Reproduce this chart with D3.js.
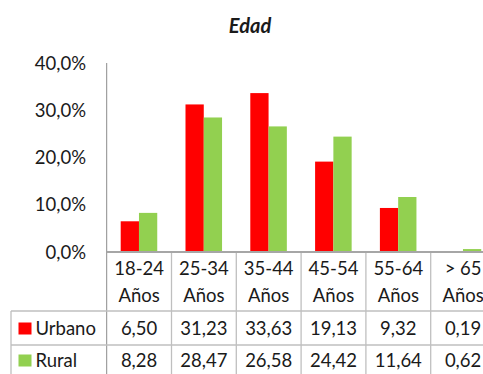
<!DOCTYPE html>
<html>
<head>
<meta charset="utf-8">
<script src="https://cdn.jsdelivr.net/npm/d3@7"></script>
<style>
  html, body { margin: 0; padding: 0; background: #fff; }
  svg { display: block; }
  text { font-family: Lato, "Open Sans", sans-serif; fill: #1a1a1a; }
</style>
</head>
<body>
<div id="chart"></div>
<script>
const title = "Edad";
const categories = ["18-24 Años", "25-34 Años", "35-44 Años", "45-54 Años", "55-64 Años", "> 65 Años"];
const catLine1 = ["18-24", "25-34", "35-44", "45-54", "55-64", "> 65"];
const catLine2 = ["Años", "Años", "Años", "Años", "Años", "Años"];
const seriesNames = ["Urbano", "Rural"];
const urbano = [6.50, 31.23, 33.63, 19.13, 9.32, 0.19];
const rural = [8.28, 28.47, 26.58, 24.42, 11.64, 0.62];
const seriesColors = ["#FF0000", "#92D050"];
const yTicks = [0, 10, 20, 30, 40];

const W = 483, H = 374;
const svg = d3.select("#chart").append("svg").attr("width", W).attr("height", H);

const plotLeft = 106.7, plotRight = 495.5, plotTop = 63, plotBottom = 252;
const x = d3.scaleBand().domain(categories).range([plotLeft, plotRight]).paddingInner(0).paddingOuter(0);
const bw = x.bandwidth();
const xs = d3.scaleBand().domain(seriesNames).range([bw * 0.216, bw * 0.78]).padding(0);
const y = d3.scaleLinear().domain([0, 40]).range([plotBottom, plotTop]);

const fmt = v => d3.format(".1f")(v).replace(".", ",") + "%";
const fmt2 = v => d3.format(".2f")(v).replace(".", ",");

// title
svg.append("text").attr("x", 250).attr("y", 33).attr("text-anchor", "middle")
  .style("font-size", "20px").style("font-weight", "bold").style("font-style", "italic").text(title);

// y labels
svg.append("g").selectAll("text").data(yTicks).join("text")
  .attr("x", 86).attr("y", d => y(d)).attr("dy", "0.36em").attr("text-anchor", "end")
  .style("font-size", "18.5px").text(fmt);

// bars
const seriesData = [urbano, rural];
seriesData.forEach((vals, si) => {
  svg.append("g").selectAll("rect").data(vals).join("rect")
    .attr("x", (d, i) => x(categories[i]) + xs(seriesNames[si]))
    .attr("width", xs.bandwidth())
    .attr("y", d => y(d))
    .attr("height", d => y(0) - y(d))
    .attr("fill", seriesColors[si]);
});

// axes lines
const lineColor = "#BFBFBF";
const axisColor = "#8C8C8C";
svg.append("line").attr("x1", plotLeft).attr("x2", plotLeft).attr("y1", plotTop).attr("y2", H)
  .attr("stroke", axisColor).attr("stroke-width", 1);

// table grid
const row1Top = 311, row2Top = 345, tableLeft = 11;
svg.append("g").selectAll("line").data(categories.slice(1)).join("line")
  .attr("x1", d => x(d)).attr("x2", d => x(d)).attr("y1", plotBottom).attr("y2", H)
  .attr("stroke", lineColor).attr("stroke-width", 1.3);
[row1Top, row2Top].forEach(yy => {
  svg.append("line").attr("x1", tableLeft).attr("x2", W).attr("y1", yy).attr("y2", yy)
    .attr("stroke", lineColor).attr("stroke-width", 1.3);
});
svg.append("line").attr("x1", tableLeft).attr("x2", tableLeft).attr("y1", row1Top).attr("y2", H)
  .attr("stroke", lineColor).attr("stroke-width", 1.3);
svg.append("line").attr("x1", plotLeft).attr("x2", plotRight).attr("y1", plotBottom).attr("y2", plotBottom)
  .attr("stroke", "#A6A6A6").attr("stroke-width", 2);

// header text
const hdr = svg.append("g");
hdr.selectAll("text.l1").data(catLine1).join("text").attr("class", "l1")
  .attr("x", (d, i) => x(categories[i]) + bw / 2).attr("y", 268).attr("dy", "0.36em")
  .attr("text-anchor", "middle").style("font-size", "18.5px").text(d => d);
hdr.selectAll("text.l2").data(catLine2).join("text").attr("class", "l2")
  .attr("x", (d, i) => x(categories[i]) + bw / 2).attr("y", 295).attr("dy", "0.36em")
  .attr("text-anchor", "middle").style("font-size", "18.5px").text(d => d);

// rows
const rowY = [328, 360];
seriesData.forEach((vals, si) => {
  svg.append("rect").attr("x", 18.5).attr("y", rowY[si] - 5.5).attr("width", 13).attr("height", 12)
    .attr("fill", seriesColors[si]);
  svg.append("text").attr("x", 35.5).attr("y", rowY[si]).attr("dy", "0.36em")
    .style("font-size", "18.5px").text(seriesNames[si]);
  svg.append("g").selectAll("text").data(vals).join("text")
    .attr("x", (d, i) => x(categories[i]) + bw / 2).attr("y", rowY[si]).attr("dy", "0.36em")
    .attr("text-anchor", "middle").style("font-size", "18.5px").text(fmt2);
});
</script>
</body>
</html>
